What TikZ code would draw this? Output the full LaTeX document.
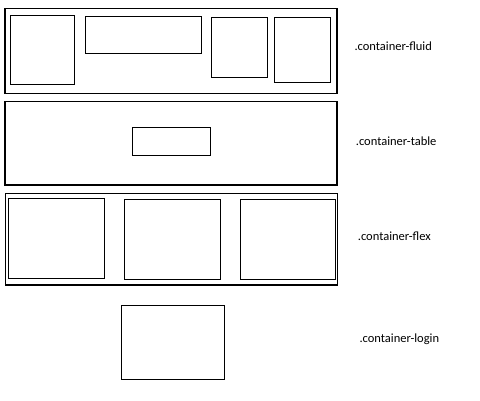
\documentclass[tikz,border=0pt]{standalone}
\usepackage{fontspec}
\setmainfont{Carlito}
\usetikzlibrary{positioning}

\begin{document}
\begin{tikzpicture}[x=1pt,y=-1pt,
    wrap/.style={rectangle, draw, line width=1.3pt, outer sep=0pt, inner sep=0pt},
    box/.style={rectangle, draw, line width=1pt, outer sep=0pt, inner sep=0pt},
    lbl/.style={anchor=west, inner sep=0pt, font=\fontsize{12.5}{14}\selectfont}]

    \useasboundingbox (0,0) rectangle (480,400);

    % container-fluid
    \node[wrap,
          minimum width = 332pt,
          minimum height = 85pt
          ] (fluid) at (171,50.8) {};
    \node[box,
          minimum width = 64.4pt,
          minimum height = 69.4pt
          ] (fluid1) at (42.5,50) {};
    \node[box,
          minimum width = 116pt,
          minimum height = 37.3pt
          ] (fluid2) at (143,34.7) {};
    \node[box,
          minimum width = 56.3pt,
          minimum height = 59.6pt
          ] (fluid3) at (239.2,47.5) {};
    \node[box,
          minimum width = 55.7pt,
          minimum height = 64.6pt
          ] (fluid4) at (302.8,50) {};
    \node[lbl] (lfluid) at (354.3,46.7) {.container-fluid};

    % container-table
    \node[wrap,
          minimum width = 332pt,
          minimum height = 83.3pt
          ] (table) at (171,143.3) {};
    \node[box,
          minimum width = 78.4pt,
          minimum height = 27.7pt
          ] (table1) at (171.5,141.8) {};
    \node[lbl] (ltable) at (355.7,141.7) {.container-table};

    % container-flex
    \node[wrap,
          minimum width = 332.4pt,
          minimum height = 91.7pt
          ] (flex) at (171.5,239.2) {};
    \node[box,
          minimum width = 95.7pt,
          minimum height = 79.6pt
          ] (flex1) at (56.8,238.5) {};
    \node[box,
          minimum width = 95.7pt,
          minimum height = 80pt
          ] (flex2) at (172.2,239.3) {};
    \node[box,
          minimum width = 95pt,
          minimum height = 80pt
          ] (flex3) at (287.5,239.3) {};
    \node[lbl] (lflex) at (357.7,236.7) {.container-flex};

    % container-login
    \node[box,
          minimum width = 103pt,
          minimum height = 74.3pt
          ] (login) at (172.5,342.8) {};
    \node[lbl] (llogin) at (359.3,339) {.container-login};

\end{tikzpicture}
\end{document}
